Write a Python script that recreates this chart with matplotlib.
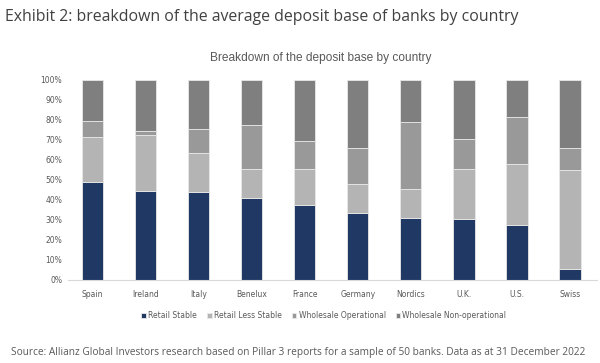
import matplotlib.pyplot as plt
import numpy as np
from matplotlib.ticker import PercentFormatter

countries = ["Spain", "Ireland", "Italy", "Benelux", "France",
             "Germany", "Nordics", "U.K.", "U.S.", "Swiss"]
retail_stable = [49.2, 44.5, 43.8, 41.0, 37.7, 33.3, 31.0, 30.7, 27.5, 5.3]
retail_less_stable = [22.5, 27.8, 19.9, 14.7, 17.6, 14.9, 14.5, 24.8, 30.3, 49.7]
wholesale_operational = [7.8, 2.4, 11.6, 22.0, 14.2, 18.0, 33.5, 15.2, 23.7, 10.8]
wholesale_non_operational = [20.5, 25.3, 24.7, 22.3, 30.5, 33.8, 21.0, 29.3, 18.5, 34.2]

series = [
    ("Retail Stable", retail_stable, "#1f3864"),
    ("Retail Less Stable", retail_less_stable, "#b4b4b4"),
    ("Wholesale Operational", wholesale_operational, "#999999"),
    ("Wholesale Non-operational", wholesale_non_operational, "#7f7f7f"),
]

fig = plt.figure(figsize=(6, 3.63), dpi=100)
ax = fig.add_axes([0.113, 0.2287, 0.882, 0.551])

x = np.arange(len(countries))
bottom = np.zeros(len(countries))
for name, vals, color in series:
    ax.bar(x, vals, width=0.4, bottom=bottom, color=color, label=name,
           edgecolor="#e8e8e8", linewidth=0.6)
    bottom += np.array(vals)

ax.set_xlim(-0.47, 9.51)
ax.set_ylim(0, 100)
ax.set_yticks(np.arange(0, 101, 10))
ax.yaxis.set_major_formatter(PercentFormatter(decimals=0))
ax.set_xticks(x)
ax.set_xticklabels(countries)
ax.tick_params(axis="both", length=0, labelsize=5.5, labelcolor="#595959",
               pad=4)
ax.tick_params(axis="x", pad=7)
for side in ["top", "right", "left"]:
    ax.spines[side].set_visible(False)
ax.spines["bottom"].set_color("#d9d9d9")
ax.spines["bottom"].set_linewidth(0.8)

# titles and footnote
fig.text(0.008, 0.953, "Exhibit 2: breakdown of the average deposit base of banks by country",
         fontsize=11.4, color="#414141", family="Open Sans", va="center")
fig.text(0.535, 0.84, "Breakdown of the deposit base by country",
         fontsize=8.6, color="#595959", family="Liberation Sans", ha="center", va="center")
fig.text(0.018, 0.03, "Source: Allianz Global Investors research based on Pillar 3 reports "
         "for a sample of 50 banks. Data as at 31 December 2022",
         fontsize=7.3, color="#595959", family="Open Sans", va="center")

ax.legend(loc="center", bbox_to_anchor=(0.484, -0.18), ncol=4, frameon=False,
          fontsize=5.5, labelcolor="#595959", handlelength=0.6, handleheight=0.6,
          handletextpad=0.3, columnspacing=1.3)

fig.savefig("out.png", dpi=100)
